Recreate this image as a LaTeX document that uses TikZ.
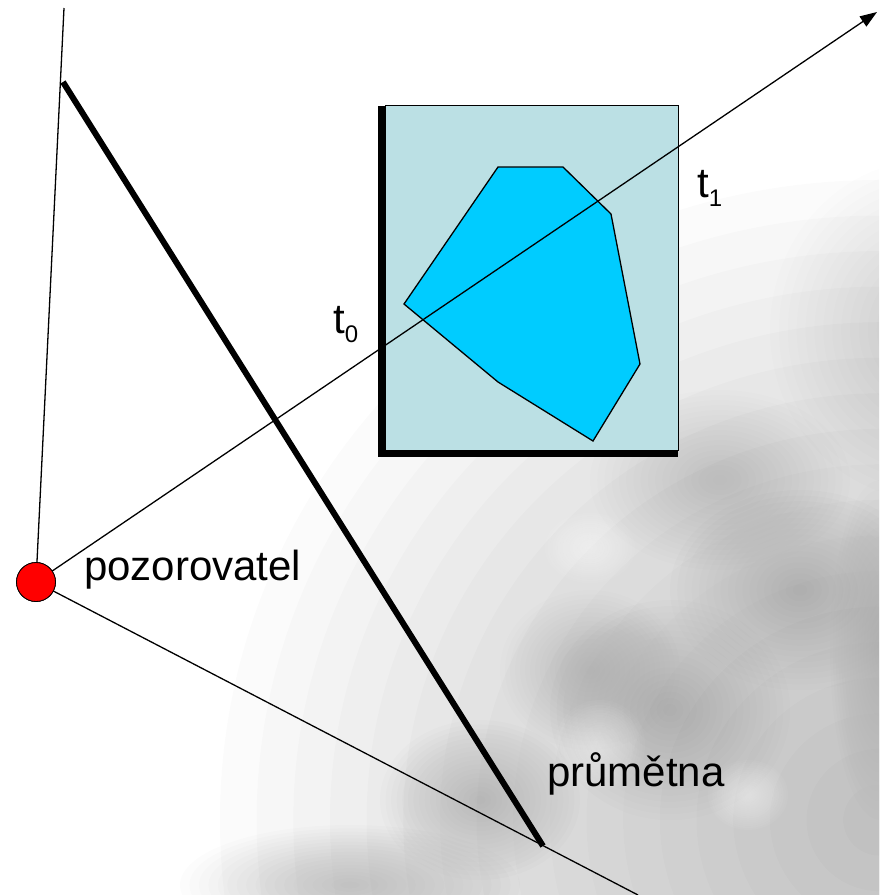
\documentclass[tikz,border=0pt]{standalone}
\usepackage{fontspec}
\setmainfont{Liberation Sans}
\usetikzlibrary{arrows.meta}
\definecolor{screenbg}{RGB}{187,224,228}
\definecolor{objblue}{RGB}{0,204,255}
\tikzset{
  thinline/.style={draw=black, line width=1.3pt},
  thickline/.style={draw=black, line width=6pt},
  lbl/.style={anchor=base west, inner sep=0pt, font=\fontsize{42}{48}\selectfont},
  observer/.style={circle, draw=black, line width=0.8pt, fill=red, minimum size=39pt, inner sep=0pt},
  screen/.style={draw=black, line width=1pt, fill=screenbg, minimum width=293pt, minimum height=345pt, inner sep=0pt},
}
\newcommand{\subnum}[1]{\raisebox{-9.5pt}{\fontsize{24}{24}\selectfont #1}}
% soft blob: cx cy rx ry colour opacity-per-layer
\newcommand{\softblob}[6]{%
  \foreach \k in {1,...,18}{%
    \fill[#5, fill opacity=#6] (#1,#2) ellipse ({#3*\k/18} and {#4*\k/18});}}
\begin{document}
\begin{tikzpicture}[x=1pt,y=-1pt]
\useasboundingbox (0,0) rectangle (879,895);
% background texture
\begin{scope}
  \clip (0,0) rectangle (879,895);
  \softblob{880}{820}{660}{640}{black}{0.016}
  \softblob{930}{330}{160}{170}{black}{0.008}
  \softblob{800}{590}{130}{100}{black}{0.010}
  \softblob{670}{710}{120}{110}{black}{0.010}
  \softblob{590}{670}{90}{80}{black}{0.008}
  \softblob{480}{800}{100}{80}{black}{0.010}
  \softblob{350}{885}{170}{60}{black}{0.010}
  \softblob{880}{650}{50}{170}{black}{0.007}
  \softblob{720}{480}{130}{90}{black}{0.006}
  \softblob{590}{548}{45}{35}{white}{0.03}
  \softblob{600}{745}{45}{45}{white}{0.03}
  \softblob{748}{795}{40}{35}{white}{0.03}
\end{scope}
% nodes and coordinates
\node[observer] (obs) at (36,582) {};
\coordinate (topend) at (64,8);
\coordinate (botend) at (638,895);
\coordinate (rayend) at (877,12);
\coordinate (p1) at (63,82);
\coordinate (p2) at (543,846);
% thin lines
\draw[thinline] (obs.center) -- (topend);
\draw[thinline] (obs.center) -- (botend);
% projection plane
\draw[thickline] (p1) -- (p2);
% screen with shadow
\fill[black] (378,106) rectangle (678,457);
\node[screen] (scr) at (531.5,277.5) {};
% object polygon
\draw[fill=objblue, line width=1.3pt, line join=miter]
  (498,167) -- (563,167) -- (611,214) -- (640,364) -- (593,441) -- (498,382) -- (404,304) -- cycle;
% ray
\draw[thinline, -{Triangle[length=17pt,width=12pt]}] (obs.center) -- (rayend);
\node[observer] (obs2) at (obs.center) {};
% labels
\node[lbl] (lpoz) at (84,580) {pozorovatel};
\node[lbl] (lpru) at (547,786) {průmětna};
\node[lbl] (lt0) at (333,333) {t\subnum{0}};
\node[lbl] (lt1) at (697,197) {t\subnum{1}};
\end{tikzpicture}
\end{document}
